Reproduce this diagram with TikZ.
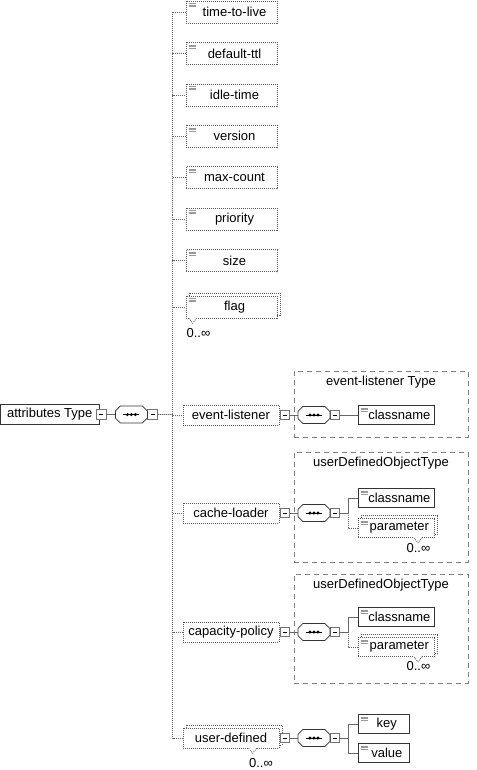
\documentclass[tikz,border=0pt]{standalone}
\usepackage{fontspec}
\setmainfont{Liberation Sans}
\usetikzlibrary{shadows,positioning}

\begin{document}
\begin{tikzpicture}[
    x=1pt, y=-1pt,
    font=\fontsize{13}{15}\selectfont,
    box/.style = {rectangle, draw=black!80, line width=0.7pt, fill=white, inner sep=3pt},
    opt/.style = {draw=black!65, line width=0.7pt, dash pattern=on 1pt off 1pt},
    elem/.style = {box, minimum width=91, minimum height=22, execute at begin node={\hspace*{6pt}},
        path picture={\foreach \d in {2.5,4,5.5} \draw[solid, black!40, line width=0.6pt] ([xshift=2.5pt, yshift=-\d pt]path picture bounding box.north west) -- ++(7pt,0);}},
    celem/.style = {box, minimum width=96, minimum height=20},
    small/.style = {elem, minimum width=76, minimum height=19},
    multi/.style = {copy shadow={shadow xshift=3pt, shadow yshift=3pt, draw=black!65, dash pattern=on 1pt off 1pt, fill=white}},
    minus/.style = {rectangle, draw=black!55, line width=0.6pt, fill=white, minimum size=9.5pt, inner sep=0,
        path picture={\draw[solid, black, line width=0.9pt] ([xshift=-2pt]path picture bounding box.center) -- ([xshift=2pt]path picture bounding box.center);}},
    seq/.style = {rectangle, minimum width=32, minimum height=17, inner sep=0, outer sep=0,
        path picture={\draw[solid, black, line width=0.7pt] ([xshift=-8pt]path picture bounding box.center) -- ([xshift=8pt]path picture bounding box.center);
            \foreach \d in {-4,0,4} \fill ([xshift=\d pt]path picture bounding box.center) circle (1.7pt);}},
    octo/.style = {draw=black!80, line width=0.7pt},
    typebox/.style = {rectangle, draw=black!50, line width=0.8pt, dash pattern=on 5pt off 4pt, minimum width=174},
    title/.style = {inner sep=0},
    mult/.style = {inner sep=0},
    line/.style = {draw=black!60, line width=0.7pt},
    optline/.style = {line, dash pattern=on 1pt off 1pt}
]
    \useasboundingbox (0,0) rectangle (476,770);

    % Nodes
    \node [box, minimum width=98.5, minimum height=20] (root) at (49.75,414.5) {attributes Type};
    \node [minus, right=-3pt of root] (rm) {};
    \node [seq, right=9pt of rm] (seqa) {};
    \node [minus, right=0pt of seqa] (sma) {};

    \node [elem, opt] (ttl) at (231.5,12) {time-to-live};
    \node [elem, opt, below=18.75pt of ttl] (dttl) {default-ttl};
    \node [elem, opt, below=18.75pt of dttl] (idle) {idle-time};
    \node [elem, opt, below=18.75pt of idle] (ver) {version};
    \node [elem, opt, below=18.75pt of ver] (maxc) {max-count};
    \node [elem, opt, below=18.75pt of maxc] (prio) {priority};
    \node [elem, opt, below=18.75pt of prio] (size) {size};
    \node [elem, opt, multi, below=23.5pt of size] (flag) {flag};
    \node [mult] (flagm) at (198.5,333) {0..∞};

    % event-listener
    \node [typebox, minimum height=66] (elt) at (381,404) {};
    \node [title, below=5pt of elt.north] (eltt) {event-listener Type};
    \node [celem, opt] (el) at (231,415) {event-listener};
    \node [minus, right=0.5pt of el] (elm) {};
    \node [seq, right=8pt of elm] (els) {};
    \node [minus, right=0pt of els] (elsm) {};
    \node [small, anchor=west] (elcn) at (358,415) {classname};

    % cache-loader
    \node [typebox, minimum height=110] (clt) at (381,507) {};
    \node [title, below=5pt of clt.north] (cltt) {userDefinedObjectType};
    \node [celem, opt] (cl) at (231,513) {cache-loader};
    \node [minus, right=0.5pt of cl] (clm) {};
    \node [seq, right=8pt of clm] (cls) {};
    \node [minus, right=0pt of cls] (clsm) {};
    \coordinate [right=8pt of clsm] (clb);
    \node [small, anchor=west] (clcn) at (358,498) {classname};
    \node [small, opt, multi, anchor=west] (clpa) at (358,528) {parameter};
    \node [mult] (clpam) at (418.5,548) {0..∞};

    % capacity-policy
    \node [typebox, minimum height=109] (cpt) at (381,628.5) {};
    \node [title, below=5pt of cpt.north] (cptt) {userDefinedObjectType};
    \node [celem, opt] (cp) at (231,632) {capacity-policy};
    \node [minus, right=0.5pt of cp] (cpm) {};
    \node [seq, right=8pt of cpm] (cps) {};
    \node [minus, right=0pt of cps] (cpsm) {};
    \coordinate [right=8pt of cpsm] (cpb);
    \node [small, anchor=west] (cpcn) at (358,617) {classname};
    \node [small, opt, multi, anchor=west] (cppa) at (358,647) {parameter};
    \node [mult] (cppam) at (418.5,666) {0..∞};

    % user-defined
    \node [celem, opt, multi] (ud) at (231,738) {user-defined};
    \node [mult] (udm2) at (261,763) {0..∞};
    \node [minus, right=0.5pt of ud] (udm) {};
    \node [seq, right=8pt of udm] (uds) {};
    \node [minus, right=0pt of uds] (udsm) {};
    \coordinate [right=8pt of udsm] (udb);
    \node [small, minimum width=51, anchor=west] (udk) at (358,724) {key};
    \node [small, minimum width=51, anchor=west] (udv) at (358,753) {value};

    % sequence outlines
    \foreach \s in {seqa,els,cls,cps,uds}
        \path [octo] ([xshift=5]\s.north west) -- ([xshift=-5]\s.north east)
            -- ([yshift=-5]\s.north east) -- ([yshift=5]\s.south east)
            -- ([xshift=-5]\s.south east) -- ([xshift=5]\s.south west)
            -- ([yshift=5]\s.south west) -- ([yshift=-5]\s.north west) -- cycle;

    % notches under repeated elements
    \foreach \n/\d in {flag/7,clpa/60,cppa/60,ud/70} {
        \path [draw=white, line width=1.5pt] ([xshift=\d-4]\n.south west) -- ([xshift=\d+4]\n.south west);
        \path [opt] ([xshift=\d-4]\n.south west) -- ([xshift=\d, yshift=-5]\n.south west) -- ([xshift=\d+4]\n.south west);
    }

    % Edges
    \path [line] (rm) -- (seqa);
    \foreach \c in {ttl,dttl,idle,ver,maxc,prio,size,flag,el,cl,cp,ud}
        \path [optline] (sma.east) -- ++(15,0) |- (\c.west);

    \path [line] (elm) -- (els);
    \path [line] (elsm) -- (elcn);

    \path [line] (clm) -- (cls);
    \path [line] (clsm) -- (clb) |- (clcn);
    \path [optline] (clb) |- (clpa);

    \path [line] (cpm) -- (cps);
    \path [line] (cpsm) -- (cpb) |- (cpcn);
    \path [optline] (cpb) |- (cppa);

    \path [line] (udm) -- (uds);
    \path [line] (udsm) -- (udb) |- (udk);
    \path [line] (udb) |- (udv);

\end{tikzpicture}
\end{document}
